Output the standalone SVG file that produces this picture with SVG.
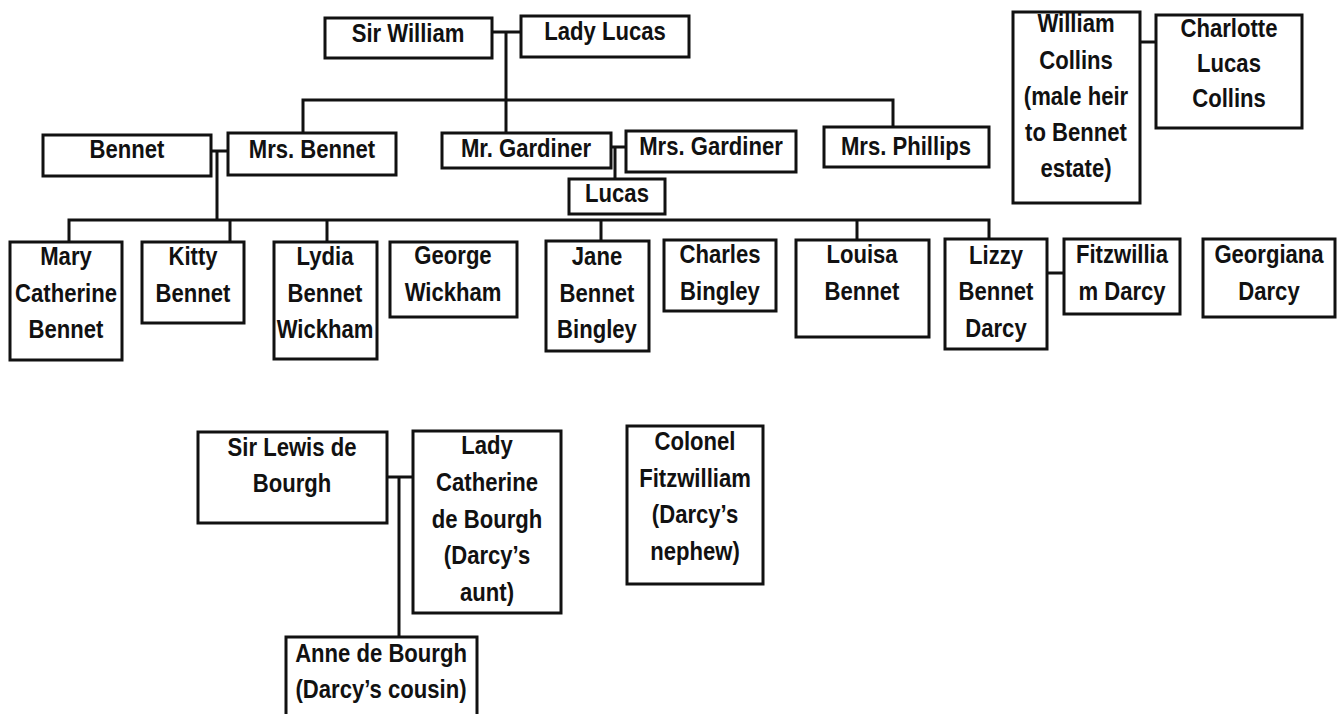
<svg xmlns="http://www.w3.org/2000/svg" width="1337" height="714" viewBox="0 0 1337 714">
<style>
rect.box{fill:#fff;stroke:#111;stroke-width:3}
text{font-family:"Liberation Sans",Arial,sans-serif;font-weight:bold;font-size:26px;fill:#111;text-anchor:middle}
.conn path{fill:none;stroke:#111;stroke-width:3}
</style>
<rect width="1337" height="714" fill="#fff"/>
<g class="conn">
<path d="M492,32H521M506,32V133"/>
<path d="M303,133V100H893V127"/>
<path d="M211,151H228M217,151V220"/>
<path d="M69,242V220H989V239"/>
<path d="M230,220V242M327,220V242M601,220V241M857,220V240"/>
<path d="M611,147H626M615,147V179"/>
<path d="M1140,42H1156"/>
<path d="M1047,273H1064"/>
<path d="M387,477H413M399,477V637"/>
</g>
<g id="sir-william"><rect class="box" x="325" y="18" width="167" height="40"/><text transform="translate(408,42) scale(0.85,1)">Sir William</text></g>
<g id="lady-lucas"><rect class="box" x="521" y="16" width="168" height="41"/><text transform="translate(605,40) scale(0.85,1)">Lady Lucas</text></g>
<g id="bennet"><rect class="box" x="43" y="135" width="168" height="41"/><text transform="translate(127,158) scale(0.85,1)">Bennet</text></g>
<g id="mrs-bennet"><rect class="box" x="228" y="133" width="168" height="42"/><text transform="translate(312,158) scale(0.85,1)">Mrs. Bennet</text></g>
<g id="mr-gardiner"><rect class="box" x="442" y="133" width="169" height="35"/><text transform="translate(526,157) scale(0.85,1)">Mr. Gardiner</text></g>
<g id="mrs-gardiner"><rect class="box" x="626" y="131" width="170" height="41"/><text transform="translate(711,155) scale(0.85,1)">Mrs. Gardiner</text></g>
<g id="lucas"><rect class="box" x="569" y="179" width="96" height="35"/><text transform="translate(617,202) scale(0.85,1)">Lucas</text></g>
<g id="mrs-phillips"><rect class="box" x="824" y="127" width="165" height="40"/><text transform="translate(906,155) scale(0.85,1)">Mrs. Phillips</text></g>
<g id="william-collins"><rect class="box" x="1013" y="12" width="127" height="191"/><text transform="translate(1076,32) scale(0.85,1)">William</text><text transform="translate(1076,69) scale(0.85,1)">Collins</text><text transform="translate(1076,105) scale(0.85,1)">(male heir</text><text transform="translate(1076,141) scale(0.85,1)">to Bennet</text><text transform="translate(1076,177) scale(0.85,1)">estate)</text></g>
<g id="charlotte"><rect class="box" x="1156" y="15" width="146" height="113"/><text transform="translate(1229,37) scale(0.85,1)">Charlotte</text><text transform="translate(1229,72) scale(0.85,1)">Lucas</text><text transform="translate(1229,107) scale(0.85,1)">Collins</text></g>
<g id="mary"><rect class="box" x="10" y="242" width="112" height="118"/><text transform="translate(66,265) scale(0.85,1)">Mary</text><text transform="translate(66,302) scale(0.85,1)">Catherine</text><text transform="translate(66,338) scale(0.85,1)">Bennet</text></g>
<g id="kitty"><rect class="box" x="142" y="242" width="102" height="81"/><text transform="translate(193,265) scale(0.85,1)">Kitty</text><text transform="translate(193,302) scale(0.85,1)">Bennet</text></g>
<g id="lydia"><rect class="box" x="274" y="242" width="103" height="117"/><text transform="translate(325,265) scale(0.85,1)">Lydia</text><text transform="translate(325,302) scale(0.85,1)">Bennet</text><text transform="translate(325,338) scale(0.85,1)">Wickham</text></g>
<g id="george"><rect class="box" x="390" y="242" width="127" height="75"/><text transform="translate(453,264) scale(0.85,1)">George</text><text transform="translate(453,301) scale(0.85,1)">Wickham</text></g>
<g id="jane"><rect class="box" x="546" y="241" width="103" height="110"/><text transform="translate(597,265) scale(0.85,1)">Jane</text><text transform="translate(597,302) scale(0.85,1)">Bennet</text><text transform="translate(597,338) scale(0.85,1)">Bingley</text></g>
<g id="charles"><rect class="box" x="664" y="240" width="112" height="71"/><text transform="translate(720,263) scale(0.85,1)">Charles</text><text transform="translate(720,300) scale(0.85,1)">Bingley</text></g>
<g id="louisa"><rect class="box" x="796" y="240" width="133" height="97"/><text transform="translate(862,263) scale(0.85,1)">Louisa</text><text transform="translate(862,300) scale(0.85,1)">Bennet</text></g>
<g id="lizzy"><rect class="box" x="945" y="239" width="102" height="110"/><text transform="translate(996,264) scale(0.85,1)">Lizzy</text><text transform="translate(996,300) scale(0.85,1)">Bennet</text><text transform="translate(996,337) scale(0.85,1)">Darcy</text></g>
<g id="fitzwilliam-darcy"><rect class="box" x="1064" y="239" width="116" height="75"/><text transform="translate(1122,263) scale(0.85,1)">Fitzwillia</text><text transform="translate(1122,300) scale(0.85,1)">m Darcy</text></g>
<g id="georgiana"><rect class="box" x="1203" y="239" width="132" height="78"/><text transform="translate(1269,263) scale(0.85,1)">Georgiana</text><text transform="translate(1269,300) scale(0.85,1)">Darcy</text></g>
<g id="sir-lewis"><rect class="box" x="198" y="432" width="189" height="91"/><text transform="translate(292,456) scale(0.85,1)">Sir Lewis de</text><text transform="translate(292,492) scale(0.85,1)">Bourgh</text></g>
<g id="lady-catherine"><rect class="box" x="413" y="431" width="148" height="182"/><text transform="translate(487,454) scale(0.85,1)">Lady</text><text transform="translate(487,491) scale(0.85,1)">Catherine</text><text transform="translate(487,528) scale(0.85,1)">de Bourgh</text><text transform="translate(487,564) scale(0.85,1)">(Darcy’s</text><text transform="translate(487,601) scale(0.85,1)">aunt)</text></g>
<g id="colonel"><rect class="box" x="627" y="426" width="136" height="158"/><text transform="translate(695,450) scale(0.85,1)">Colonel</text><text transform="translate(695,487) scale(0.85,1)">Fitzwilliam</text><text transform="translate(695,523) scale(0.85,1)">(Darcy’s</text><text transform="translate(695,560) scale(0.85,1)">nephew)</text></g>
<g id="anne"><rect class="box" x="286" y="637" width="191" height="90"/><text transform="translate(381,662) scale(0.85,1)">Anne de Bourgh</text><text transform="translate(381,698) scale(0.85,1)">(Darcy’s cousin)</text></g>
</svg>
